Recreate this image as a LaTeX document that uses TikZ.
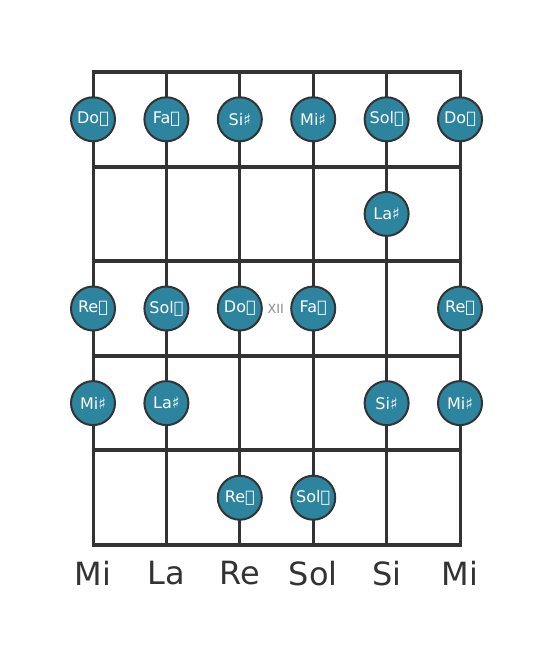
\documentclass[tikz,border=0pt]{standalone}
\usepackage{fontspec}
\setmainfont{DejaVu Sans}
\definecolor{fretgray}{HTML}{333333}
\definecolor{dotteal}{HTML}{2C849E}
\definecolor{labelgray}{HTML}{8A8A8A}
\newcommand{\dsh}{𝄪}
\newcommand{\shp}{♯}
\begin{document}
\begin{tikzpicture}[x=55.05pt, y=-70.95pt,
    note/.style = {circle, draw = fretgray, line width = 1.5pt, fill = dotteal,
      minimum size = 33pt, inner sep = 0pt, text = white, font = \fontsize{12}{12}\selectfont},
    stringname/.style = {text = fretgray, font = \fontsize{24}{24}\selectfont}]

      \useasboundingbox (-1.267, -0.761) rectangle (6.267, 6.173);

      \foreach \s in {0, ..., 5}
        \draw[fretgray, line width = 2.25pt] (\s, 0) -- (\s, 5);
      \foreach \f in {0, ..., 5}
        \draw[fretgray, line width = 3pt] (-0.02, \f) -- (5.02, \f);

      \node[note] (c1) at (0, 0.5) {Do\dsh};
      \node[note] (f1) at (1, 0.5) {Fa\dsh};
      \node[note] (b1) at (2, 0.5) {Si\shp};
      \node[note] (e1) at (3, 0.5) {Mi\shp};
      \node[note] (g1) at (4, 0.5) {Sol\dsh};
      \node[note] (c2) at (5, 0.5) {Do\dsh};

      \node[note] (a1) at (4, 1.5) {La\shp};

      \node[note] (d1) at (0, 2.5) {Re\dsh};
      \node[note] (g2) at (1, 2.5) {Sol\dsh};
      \node[note] (c3) at (2, 2.5) {Do\dsh};
      \node[note] (f2) at (3, 2.5) {Fa\dsh};
      \node[note] (d2) at (5, 2.5) {Re\dsh};
      \node[text = labelgray, font = \fontsize{9.5}{9.5}\selectfont] (xii) at (2.49, 2.5) {XII};

      \node[note] (e2) at (0, 3.5) {Mi\shp};
      \node[note] (a2) at (1, 3.5) {La\shp};
      \node[note] (b2) at (4, 3.5) {Si\shp};
      \node[note] (e3) at (5, 3.5) {Mi\shp};

      \node[note] (d3) at (2, 4.5) {Re\dsh};
      \node[note] (g3) at (3, 4.5) {Sol\dsh};

      \node[stringname] (s6) at (0, 5.3) {Mi};
      \node[stringname] (s5) at (1, 5.3) {La};
      \node[stringname] (s4) at (2, 5.3) {Re};
      \node[stringname] (s3) at (3, 5.3) {Sol};
      \node[stringname] (s2) at (4, 5.3) {Si};
      \node[stringname] (s1) at (5, 5.3) {Mi};

    \end{tikzpicture}
\end{document}
